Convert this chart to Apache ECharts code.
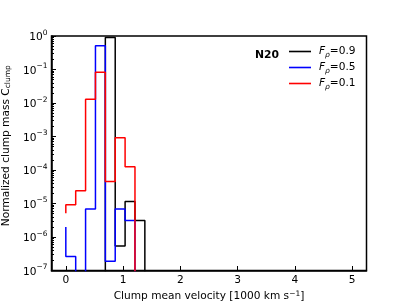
<!DOCTYPE html>
<html><head><meta charset="utf-8">
<script src="https://cdn.jsdelivr.net/npm/echarts@6/dist/echarts.min.js"></script>
<style>html,body{margin:0;padding:0;background:#fff}#c{width:407px;height:305px}</style>
</head><body><div id="c"></div>
<script>
// bin edges (km/s / 1000); value at edge i = height of bin ending at edge i (step "pre" style)
const binEdges = [0, 0.1725, 0.345, 0.5175, 0.69, 0.8625, 1.035, 1.2075, 1.38, 1.5525];
const fRhoValues = ['0.9', '0.5', '0.1'];
const valuesF09 = [0, 0, 0, 0, 0, 0.9, 5.4e-7, 1.15e-5, 3.1e-6, 0];
const valuesF05 = [2.0e-6, 2.6e-7, 0, 6.9e-6, 0.51, 1.9e-7, 6.9e-6, 3.1e-6, 0, 0];
const valuesF01 = [5.1e-6, 9.1e-6, 2.4e-5, 0.0129, 0.083, 4.5e-5, 9.2e-4, 1.26e-4, 0, 0];
const xTicks = [0, 1, 2, 3, 4, 5];
const yTicks = [1e-7, 1e-6, 1e-5, 1e-4, 1e-3, 1e-2, 1e-1, 1];

const colors = ['#000000', '#0000ff', '#ff0000'];
const allValues = [valuesF09, valuesF05, valuesF01];
const FLOOR = 1e-8;
const yMinor = [];
yTicks.slice(0, -1).forEach(d => { for (let k = 2; k <= 9; k++) yMinor.push(d * k); });

const FONT = 'DejaVu Sans';
const FS = 10.6;
const chart = echarts.init(document.getElementById('c'), null, {renderer: 'canvas'});
const supRich = {
  b: {fontSize: FS, fontFamily: FONT, color: '#000', lineHeight: 14, verticalAlign: 'bottom'},
  e: {fontSize: 7.5, fontFamily: FONT, color: '#000', lineHeight: 9, verticalAlign: 'top'}
};
const expLabel = v => {
  const e = Math.round(Math.log10(v));
  return '{b|10}{e|' + (e < 0 ? '\u2212' : '') + Math.abs(e) + '}';
};

chart.setOption({
  animation: false,
  backgroundColor: '#fff',
  title: {
    text: 'N20', left: 255, top: 50, padding: 0,
    textStyle: {fontFamily: FONT, fontWeight: 'bold', fontSize: 10.8, color: '#000'}
  },
  legend: {
    orient: 'vertical', left: 289, top: 43.5, padding: 0,
    itemWidth: 22, itemHeight: 1.6, itemGap: 0, icon: 'rect',
    data: fRhoValues.map(v => 'F\u03c1=' + v),
    formatter: n => '{f|F}{s|\u03c1}{t|' + n.slice(2) + '}',
    textStyle: {
      fontFamily: FONT, fontSize: FS, color: '#000', lineHeight: 16,
      rich: {
        f: {fontFamily: FONT, fontSize: FS, fontStyle: 'italic', color: '#000', padding: [0, 0, 0, 3], lineHeight: 16},
        s: {fontFamily: FONT, fontSize: 7.5, fontStyle: 'italic', color: '#000', lineHeight: 10, verticalAlign: 'bottom'},
        t: {fontFamily: FONT, fontSize: FS, color: '#000', lineHeight: 16}
      }
    }
  },
  grid: {left: 51.5, right: 40.5, top: 36, bottom: 34.5, show: true, borderColor: '#000', borderWidth: 1.5, containLabel: false, outerBoundsMode: 'none'},
  xAxis: {
    type: 'value', min: -0.25, max: 5.25,
    axisLine: {show: true, onZero: false, lineStyle: {color: '#000', width: 1.5}},
    axisTick: {show: true, inside: true, length: 4.5, customValues: xTicks, lineStyle: {color: '#000', width: 1}},
    axisLabel: {customValues: xTicks, fontFamily: FONT, fontSize: FS, color: '#000', margin: 4},
    splitLine: {show: false},
    name: 'Clump mean velocity [1000 km s{e|\u22121}]',
    nameLocation: 'middle', nameGap: 18,
    nameTextStyle: {fontFamily: FONT, fontSize: FS, color: '#000', rich: {
      e: {fontSize: 7.5, fontFamily: FONT, color: '#000', verticalAlign: 'top', lineHeight: 9}
    }}
  },
  yAxis: [{
    type: 'log', logBase: 10, min: 1e-7, max: 1,
    axisLine: {show: true, onZero: false, lineStyle: {color: '#000', width: 1.5}},
    axisTick: {show: true, inside: true, length: 4.5, customValues: yTicks, lineStyle: {color: '#000', width: 1}},
    axisLabel: {customValues: yTicks, margin: 4, formatter: expLabel, rich: supRich},
    splitLine: {show: false},
    name: 'Normalized clump mass C{s|clump}',
    nameLocation: 'middle', nameGap: 31.5,
    nameTextStyle: {fontFamily: FONT, fontSize: FS, color: '#000', padding: [0, 0, 0, 15], rich: {
      s: {fontSize: 7.5, fontFamily: FONT, color: '#000', verticalAlign: 'bottom', lineHeight: 10}
    }}
  }, {
    type: 'log', logBase: 10, min: 1e-7, max: 1, position: 'left', offset: 0,
    axisLine: {show: false, onZero: false},
    axisTick: {show: true, inside: true, length: 2.5, customValues: yMinor, lineStyle: {color: '#000', width: 1}},
    axisLabel: {show: false},
    splitLine: {show: false}
  }],
  series: allValues.map((vals, si) => ({
    name: 'F\u03c1=' + fRhoValues[si],
    type: 'line', step: 'start', symbol: 'none', clip: true,
    color: colors[si],
    lineStyle: {color: colors[si], width: 1.5},
    itemStyle: {color: colors[si]},
    z: 2 + si,
    data: binEdges.map((x, i) => [x, vals[i] > 0 ? vals[i] : FLOOR])
  }))
});
</script></body></html>
